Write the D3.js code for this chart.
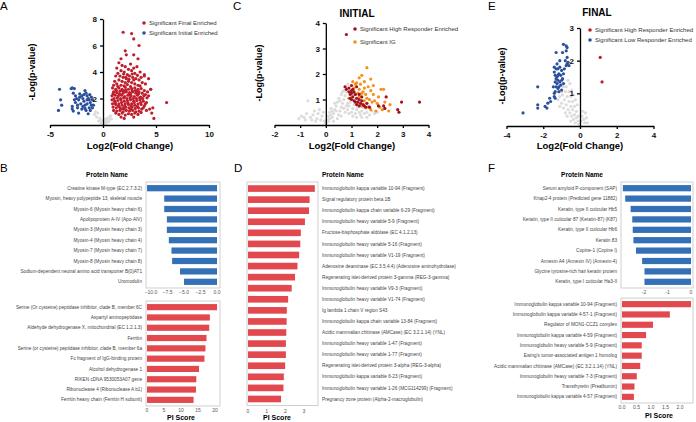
<!DOCTYPE html>
<html>
<head>
<meta charset="utf-8">
<script src="https://cdn.jsdelivr.net/npm/d3@7"></script>
<style>
  body { margin: 0; background: #fff; }
  text { font-family: "Liberation Sans", Arial, sans-serif; }
</style>
</head>
<body>
<div id="chart"></div>
<script>
// ---- panel A: final vs initial volcano ----
const aFinal = [
  [1.5,4.7],[1.8,4.5],[2.1,4.4],[2.6,4.6],[1.3,4.3],[2.9,4.3],[3.2,4.4],[2.4,4.2],[1.7,4.1],[3.5,4.0],[2.0,4.0],[2.7,4.1],[1.4,3.9],[3.0,3.9],[3.9,3.8],[2.3,3.8],[3.6,3.6],
  [1.2,3.7],[1.6,3.7],[1.9,3.6],[2.2,3.5],[2.5,3.7],[2.8,3.6],[3.1,3.5],[3.4,3.4],[1.1,3.3],[1.5,3.4],[1.8,3.3],[2.1,3.2],[2.4,3.3],[2.7,3.2],[3.0,3.1],[3.3,3.0],[3.7,3.2],
  [1.3,3.1],[1.7,3.0],[2.0,2.95],[2.3,3.05],[2.6,2.9],[2.9,3.4],[3.5,2.95],[4.0,3.1],[1.0,3.0],[1.4,2.9],[2.15,3.6],[2.45,3.45],[1.95,3.85],[2.75,3.85],[3.25,3.75],
  [0.9,2.8],[1.2,2.7],[1.5,2.8],[1.8,2.7],[2.1,2.85],[2.4,2.7],[2.7,2.75],[3.0,2.8],[3.3,2.7],[3.6,2.75],[3.9,2.6],[4.2,2.5],[4.5,2.7],[1.0,2.5],[1.3,2.45],[1.6,2.55],
  [1.9,2.4],[2.2,2.5],[2.5,2.45],[2.8,2.5],[3.1,2.4],[3.4,2.5],[3.7,2.4],[4.0,2.3],[0.85,2.2],[1.15,2.25],[1.45,2.2],[1.75,2.25],[2.05,2.15],[2.35,2.25],[2.65,2.2],
  [2.95,2.15],[3.25,2.25],[3.55,2.1],[3.85,2.2],[4.15,2.05],[1.05,2.0],[1.35,2.05],[1.65,2.0],[1.95,2.05],[2.25,2.0],[2.55,2.05],[2.85,2.0],[3.15,2.0],[3.45,2.05],
  [3.75,2.0],[4.3,2.2],[1.25,2.6],[1.55,2.35],[1.85,2.6],[2.15,2.65],[2.45,2.3],[2.75,2.6],[3.05,2.6],[3.35,2.35],[0.95,2.35],[2.0,2.55],[2.6,2.35],[3.2,2.55],
  [0.85,1.9],[1.1,1.8],[1.4,1.85],[1.7,1.9],[2.0,1.8],[2.3,1.85],[2.6,1.9],[2.9,1.8],[3.2,1.85],[3.5,1.9],[3.8,1.8],[4.1,1.7],[0.9,1.6],[1.2,1.55],[1.5,1.6],[1.8,1.5],
  [2.1,1.6],[2.4,1.55],[2.7,1.6],[3.0,1.5],[3.3,1.6],[3.6,1.55],[3.9,1.45],[0.95,1.35],[1.25,1.3],[1.55,1.35],[1.85,1.25],[2.15,1.35],[2.45,1.3],[2.75,1.35],[3.05,1.25],
  [3.35,1.3],[3.65,1.2],[1.0,1.1],[1.3,1.05],[1.6,1.1],[1.9,1.0],[2.2,1.1],[2.5,1.05],[2.8,1.1],[3.1,1.0],[3.4,1.05],[4.4,1.2],[1.15,1.7],[1.45,1.45],[1.75,1.7],
  [2.05,1.4],[2.35,1.7],[2.65,1.45],[2.95,1.7],[3.25,1.4],[3.55,1.7],[1.65,1.2],[2.0,1.2],[2.6,1.2],[3.8,1.3],[4.0,1.6],
  [1.2,0.9],[1.5,0.8],[1.8,0.9],[2.1,0.75],[2.4,0.85],[2.7,0.8],[3.0,0.9],[1.7,0.6],[2.0,0.5],[3.3,0.8],[2.9,0.6],[4.6,0.9],[4.8,0.5],[3.6,0.95],
  [1.9,7.0],[2.7,6.9],[2.9,6.5],[3.4,6.0],[2.1,5.6],[2.9,5.3],[3.3,5.0],[2.2,5.3],[1.7,5.0],[6.0,1.7],[4.3,3.5],[3.9,3.7],[4.5,2.7],[4.1,1.1],[4.7,1.3]
];
const aInitial = [
  [-4.1,2.7],[-4.0,1.9],[-4.2,1.1],[-3.9,1.5],[-3.0,2.75],[-2.9,2.8],[-2.7,2.75],[-2.8,2.4],[-2.6,2.2],[-2.5,2.0],[-2.3,1.9],[-2.2,2.1],[-2.0,2.2],[-1.9,2.0],
  [-1.8,1.8],[-1.7,2.6],[-1.6,2.4],[-1.5,2.2],[-1.4,2.0],[-1.3,1.9],[-1.2,1.7],[-1.1,1.5],[-1.0,1.3],[-1.5,1.6],[-1.7,1.5],[-1.9,1.4],[-2.1,1.6],[-2.4,1.5],
  [-2.6,1.7],[-2.9,1.4],[-2.9,1.2],[-2.8,1.05],[-2.4,1.3],[-2.0,1.2],[-1.6,1.1],[-1.3,1.3],[-1.2,1.1],[-1.4,0.85],[-2.3,0.9],[-1.0,1.9],[-0.9,1.5],[-1.1,2.1],
  [-1.8,2.3],[-2.2,2.35],[-1.5,1.9],[-1.7,1.25],[-2.7,1.9],[-1.25,2.3]
];
const aNs = [
  [0.1,0.1],[0.2,0.2],[0.3,0.3],[-0.2,0.15],[-0.4,0.3],[-0.6,0.6],[-0.8,0.8],[0.5,0.4],[0.6,0.6],[0.7,0.7],[0.4,0.5],[-0.3,0.5],[-0.5,0.9],[0.2,0.45],
  [0.05,0.3],[0.35,0.15],[0.55,0.25],[0.8,0.45],[-0.15,0.35],[-0.7,1.0]
];

// ---- panel C: initial ----
const cNs = [
  [-1.05,0.25],[-0.95,0.35],[-0.85,0.3],[-0.75,0.45],[-0.7,0.95],[-0.8,0.2],[-0.6,0.3],[-0.5,0.4],[-0.45,0.55],[-0.35,0.25],[-0.3,0.45],[-0.25,0.6],[-0.2,0.2],
  [-0.15,0.35],[-0.1,0.5],[-0.05,0.15],[0,0.05],[0.05,0.2],[0.1,0.35],[0.15,0.5],[0.2,0.65],[0.25,0.3],[0.3,0.45],[0.35,0.6],[0.4,0.75],[0.45,0.9],[0.5,0.4],
  [0.55,0.55],[0.6,0.7],[0.65,0.85],[0.7,1.0],[0.75,1.15],[0.8,1.3],[0.85,0.6],[0.9,0.75],[0.95,0.9],[1.0,0.5],[1.05,0.65],[1.1,0.8],[1.15,0.45],[1.2,0.6],
  [1.25,0.7],[1.3,0.5],[1.35,0.4],[1.4,0.55],[1.5,0.45],[1.6,0.5],[1.7,0.4],[1.8,0.55],[1.9,0.45],[2.0,0.5],[0.3,0.15],[0.45,0.25],[0.6,0.35],[0.75,0.5],
  [0.9,0.45],[0.5,1.05],[0.6,1.2],[0.7,1.35],[0.75,1.5],[0.85,1.6],[0.8,1.45],[0.65,1.3],[0.55,0.95],[0.4,0.55],[0.35,0.85],[0.25,0.55],[0.15,0.25],[0.1,0.15],
  [-0.4,0.15],[-0.55,0.2],[1.0,1.1],[1.1,1.2],[1.15,1.0],[1.25,0.95],[1.35,0.8],[1.45,0.7],[1.55,0.65],[1.65,0.75],[0.95,1.25],[0.9,1.05],[0.85,0.85],[0.7,0.65],
  [0.8,0.75],[1.05,0.35],[1.2,0.3],[1.4,0.3],[1.6,0.3],[0.2,0.4],[0.05,0.1]
];
const cHigh = [
  [0.8,3.55],[0.75,1.5],[0.8,1.4],[0.9,1.45],[0.95,1.2],[1.0,1.35],[1.05,1.4],[1.0,1.0],[1.1,1.3],[1.05,1.1],[1.1,0.95],[1.15,1.2],[1.2,1.05],[1.25,0.9],
  [1.3,1.0],[1.35,0.85],[1.4,0.95],[1.45,0.8],[1.5,0.75],[1.55,0.7],[1.6,0.85],[1.2,0.8],[1.3,0.75],[1.0,1.25],[0.95,1.05],[1.15,0.9],[0.9,1.3],[1.2,1.5],
  [1.3,1.2],[1.7,0.7],[2.05,0.75],[2.25,0.75],[2.35,1.1],[2.3,0.65],[2.8,0.6],[2.85,0.5],[2.95,0.9],[3.65,0.9],[1.4,1.1],[1.0,1.55]
];
const cIg = [
  [1.6,2.25],[1.4,1.95],[1.3,1.85],[1.05,1.7],[1.15,1.6],[1.35,1.6],[1.5,1.45],[1.65,1.5],[1.75,1.35],[1.85,1.2],[1.2,1.65],[1.55,1.2],[1.45,1.3],[1.6,1.05],
  [1.7,1.0],[1.8,0.9],[1.9,0.95],[2.0,0.85],[2.1,0.7],[2.2,0.6],[2.15,1.4],[2.25,1.4],[1.75,1.8],[1.3,1.4],[1.4,1.25],[1.25,1.25],[1.5,0.95],[1.65,0.7],
  [1.4,0.75],[1.75,0.6],[2.05,1.1],[2.5,0.8],[2.45,0.55],[1.95,0.55],[1.1,1.45],[1.3,1.1],[1.5,1.7],[1.85,1.55],[0.9,1.05],[2.3,0.9]
];

// ---- panel E: final ----
const eNs = [
  [-0.05,0.05],[-0.1,0.15],[-0.2,0.25],[-0.3,0.35],[-0.4,0.5],[-0.5,0.6],[-0.6,0.75],[-0.7,0.9],[-0.8,1.05],[-0.9,1.2],[-0.65,0.5],[-0.55,0.4],[-0.45,0.3],
  [-0.35,0.2],[-0.25,0.1],[-0.75,0.65],[-0.85,0.8],[-0.95,0.95],[-0.6,1.05],[-0.5,0.9],[-0.4,0.75],[-0.3,0.6],[-0.2,0.45],[-0.1,0.3],[0.05,0.15],[0.1,0.3],
  [0.2,0.2],[0.3,0.4],[0.15,0.45],[0.25,0.1],[-0.55,1.3],[-0.65,1.4],[-0.75,1.2],[-1.0,0.7],[-1.1,0.9],[-0.8,0.4],[-0.9,0.55],[-0.45,1.1],[-0.35,0.95],
  [-0.25,0.8],[-0.15,0.65],[0.35,0.25],[0.4,0.1],[-1.2,0.8],[-1.1,0.6],[-0.7,0.3],[-0.5,0.15],[-1.0,1.05]
];
const eLow = [
  [-3.1,0.4],[-2.3,1.2],[-2.3,0.65],[-2.3,0.55],[-1.9,0.6],[-1.8,0.55],[-1.75,0.7],[-1.65,0.85],[-1.6,0.75],[-1.4,0.9],[-1.35,1.05],[-1.3,1.2],[-1.25,1.3],
  [-1.4,1.0],[-1.35,0.85],[-1.2,1.15],[-1.15,1.05],[-1.3,1.45],[-1.25,1.5],[-1.35,1.35],[-1.2,1.4],[-1.1,1.35],[-1.05,1.25],[-1.0,1.4],[-0.95,1.45],[-1.15,1.6],
  [-1.3,1.75],[-1.4,1.8],[-1.2,1.75],[-1.1,1.8],[-1.0,1.7],[-0.9,1.6],[-0.85,1.75],[-0.75,1.85],[-0.7,1.9],[-0.65,1.95],[-0.6,1.85],[-0.8,2.0],[-0.7,2.1],
  [-1.3,2.25],[-0.95,2.25],[-0.75,2.3],[-0.7,2.4],[-0.9,2.5],[-0.75,2.45],[-1.4,1.65],[-1.2,1.55],[-1.05,1.55],[-1.25,1.9],[-1.1,2.0],[-1.15,1.2],[-1.45,1.2],
  [-1.35,1.55],[-0.9,1.3],[-1.0,1.1]
];
const eHigh = [[1.1,2.1],[1.2,1.35]];

// ---- bar panels ----
const bTopNames = [
  "Creatine kinase M-type (EC 2.7.3.2)", "Myosin, heavy polypeptide 13, skeletal muscle", "Myosin-6 (Myosin heavy chain 6)",
  "Apolipoprotein A-IV (Apo-AIV)", "Myosin-3 (Myosin heavy chain 3)", "Myosin-4 (Myosin heavy chain 4)", "Myosin-7 (Myosin heavy chain 7)",
  "Myosin-8 (Myosin heavy chain 8)", "Sodium-dependent neutral amino acid transporter B(0)AT1", "Uromodulin"
];
const bTopVals = [-10.6, -8.0, -8.0, -7.6, -7.6, -7.3, -6.9, -6.8, -5.6, -5.0];
const bTopTicks = [-10, -7.5, -5, -2.5, 0];

const bBotNames = [
  "Serine (Or cysteine) peptidase inhibitor, clade B, member 6C", "Aspartyl aminopeptidase", "Aldehyde dehydrogenase X, mitochondrial (EC 1.2.1.3)",
  "Ferritin", "Serine (or cysteine) peptidase inhibitor, clade B, member 6a", "Fc fragment of IgG-binding protein", "Alcohol dehydrogenase 1",
  "RIKEN cDNA 9530053A07 gene", "Ribonuclease 4 (Ribonuclease A b1)", "Ferritin heavy chain (Ferritin H subunit)"
];
const bBotVals = [20.6, 18.5, 18.3, 17.5, 17.2, 16.9, 15.3, 14.5, 14.4, 13.7];
const bBotTicks = [0, 5, 10, 15, 20];

const dNames = [
  "Immunoglobulin kappa variable 10-94 (Fragment)", "Signal regulatory protein beta 1B", "Immunoglobulin kappa chain variable 6-29 (Fragment)",
  "Immunoglobulin heavy variable 5-9 (Fragment)", "Fructose-bisphosphate aldolase (EC 4.1.2.13)", "Immunoglobulin heavy variable 5-16 (Fragment)",
  "Immunoglobulin heavy variable V1-19 (Fragment)", "Adenosine deaminase (EC 3.5.4.4) (Adenosine aminohydrolase)",
  "Regenerating islet-derived protein 3-gamma (REG-3-gamma)", "Immunoglobulin heavy variable V9-3 (Fragment)",
  "Immunoglobulin heavy variable V1-74 (Fragment)", "Ig lambda 1 chain V region S43", "Immunoglobulin kappa chain variable 13-84 (Fragment)",
  "Acidic mammalian chitinase (AMCase) (EC 3.2.1.14) (YNL)", "Immunoglobulin heavy variable 1-47 (Fragment)",
  "Immunoglobulin heavy variable 1-77 (Fragment)", "Regenerating islet-derived protein 3-alpha (REG-3-alpha)",
  "Immunoglobulin kappa variable 6-23 (Fragment)", "Immunoglobulin heavy variable 1-26 (MCG114299) (Fragment)",
  "Pregnancy zone protein (Alpha-2-macroglobulin)"
];
const dVals = [3.58, 3.3, 3.27, 3.05, 2.83, 2.8, 2.74, 2.65, 2.52, 2.34, 2.15, 2.08, 2.07, 2.05, 2.03, 2.03, 1.99, 1.92, 1.9, 1.77];
const dTicks = [0, 1, 2, 3];

const fTopNames = [
  "Serum amyloid P-component (SAP)", "Krtap2-4 protein (Predicted gene 11882)", "Keratin, type II cuticular Hb5",
  "Keratin, type II cuticular 87 (Keratin-87) (K87)", "Keratin, type II cuticular Hb6", "Keratin 83", "Copine-1 (Copine I)",
  "Annexin A4 (Annexin IV) (Annexin-4)", "Glycine tyrosine-rich hair keratin protein", "Keratin, type I cuticular Ha3-II"
];
const fTopVals = [-2.9, -2.8, -2.57, -2.5, -2.48, -2.45, -2.34, -2.08, -1.98, -1.98];
const fTopTicks = [-2, -1, 0];

const fBotNames = [
  "Immunoglobulin kappa variable 10-94 (Fragment)", "Immunoglobulin kappa variable 4-57-1 (Fragment)", "Regulator of MON1-CCZ1 complex",
  "Immunoglobulin kappa variable 4-59 (Fragment)", "Immunoglobulin heavy variable 5-9 (Fragment)", "Ewing's tumor-associated antigen 1 homolog",
  "Acidic mammalian chitinase (AMCase) (EC 3.2.1.14) (YNL)", "Immunoglobulin heavy variable 7-3 (Fragment)", "Transthyretin (Prealbumin)",
  "Immunoglobulin kappa variable 4-57 (Fragment)"
];
const fBotVals = [2.38, 1.65, 1.07, 0.83, 0.68, 0.68, 0.63, 0.51, 0.43, 0.41];
const fBotTicks = [0, 0.5, 1, 1.5, 2];

const RED = "#bf1e2d", DARKRED = "#a3121c", BLUE = "#2c4f9e", ORANGE = "#f4901e", GREY = "#dcdcdc";
const BARBLUE = "#3470b5", BARRED = "#e2494f";

const svg = d3.select("#chart").append("svg").attr("width", 696).attr("height", 422);

const volcano = (o) => {
  const x = d3.scaleLinear().domain(o.xd).range(o.xr);
  const y = d3.scaleLinear().domain(o.yd).range(o.yr);
  const g = svg.append("g");

  o.series.forEach((s) => {
    g.append("g").selectAll("circle").data(s.data).enter().append("circle")
      .attr("cx", (d) => x(d[0]))
      .attr("cy", (d) => y(d[1]))
      .attr("r", 1.6)
      .attr("fill", s.color);
  });

  const ax = g.append("g").attr("transform", `translate(0,${y(0)})`)
    .call(d3.axisBottom(x).tickValues(o.xt).tickSize(3).tickSizeOuter(0).tickFormat((d) => String(d)));
  const ay = g.append("g").attr("transform", `translate(${x(0)},0)`)
    .call(d3.axisLeft(y).tickValues(o.yt).tickSize(3).tickSizeOuter(0).tickFormat((d) => String(d)));
  [ax, ay].forEach((a) => {
    a.attr("font-family", null);
    a.select(".domain").attr("stroke-width", 1.3);
    a.selectAll(".tick line").attr("stroke-width", 1.3);
    a.selectAll(".tick text").attr("font-size", 8).attr("font-weight", "bold").attr("fill", "#111");
  });

  g.append("text").attr("x", o.xtitle[0]).attr("y", o.xtitle[1])
    .attr("text-anchor", "middle").attr("font-size", 9.5).attr("font-weight", "bold")
    .text("Log2(Fold Change)");
  g.append("text").attr("transform", `translate(${o.ytitle[0]},${o.ytitle[1]}) rotate(-90)`)
    .attr("text-anchor", "middle").attr("font-size", 9).attr("font-weight", "bold")
    .text("-Log(p-value)");

  if (o.title) {
    g.append("text").attr("x", o.title[1]).attr("y", o.title[2])
      .attr("text-anchor", "middle").attr("font-size", 10).attr("font-weight", "bold")
      .text(o.title[0]);
  }

  o.legend.forEach((l, i) => {
    const ly = o.leg[1] + i * o.leg[2];
    g.append("circle").attr("cx", o.leg[0]).attr("cy", ly).attr("r", 1.8).attr("fill", l[1]);
    g.append("text").attr("x", o.leg[0] + 5).attr("y", ly).attr("dy", "0.35em")
      .attr("font-size", 6).attr("fill", "#333").text(l[0]);
  });
};

const barPanel = (o) => {
  const x = d3.scaleLinear().domain(o.xd).range(o.xr);
  const y = d3.scaleBand().domain(o.names).range([o.top, o.bottom]).paddingInner(0.4).paddingOuter(0.2);
  const g = svg.append("g");

  g.append("rect").attr("x", o.frame[0]).attr("y", o.top - 1)
    .attr("width", o.frame[1] - o.frame[0]).attr("height", o.bottom - o.top + 2)
    .attr("fill", "none").attr("stroke", "#c4c4c4").attr("stroke-width", 0.8);

  g.selectAll("rect.bar").data(o.vals).enter().append("rect")
    .attr("class", "bar")
    .attr("x", (d) => Math.min(x(d), x(0)))
    .attr("y", (d, i) => y(o.names[i]))
    .attr("width", (d) => Math.abs(x(d) - x(0)))
    .attr("height", y.bandwidth())
    .attr("fill", o.color);

  g.selectAll("text.lab").data(o.names).enter().append("text")
    .attr("class", "lab")
    .attr("x", o.lx)
    .attr("y", (d) => y(d) + y.bandwidth() / 2)
    .attr("dy", "0.35em")
    .attr("text-anchor", o.anchor)
    .attr("font-size", 4.7)
    .attr("fill", "#444")
    .text((d) => d);

  g.selectAll("text.tk").data(o.ticks).enter().append("text")
    .attr("class", "tk")
    .attr("x", (d) => x(d))
    .attr("y", o.ty)
    .attr("text-anchor", "middle")
    .attr("font-size", 5)
    .attr("fill", "#555")
    .text(o.fmt);
};

const label = (t, x, y, size, weight, anchor) => {
  svg.append("text").attr("x", x).attr("y", y).attr("font-size", size)
    .attr("font-weight", weight || "normal").attr("text-anchor", anchor || "start").text(t);
};

// volcano plots
volcano({
  xd: [-5, 10], xr: [50, 209], yd: [0, 8], yr: [125, 19], xt: [-5, 0, 5, 10], yt: [2, 4, 6, 8],
  series: [{ data: aNs, color: GREY }, { data: aInitial, color: BLUE }, { data: aFinal, color: RED }],
  xtitle: [130, 149], ytitle: [35, 72],
  leg: [144, 23, 10], legend: [["Significant Final Enriched", RED], ["Significant Initial Enriched", BLUE]]
});
volcano({
  xd: [-2, 4], xr: [274.5, 428.5], yd: [0, 4], yr: [125, 23], xt: [-2, -1, 0, 1, 2, 3, 4], yt: [1, 2, 3, 4],
  series: [{ data: cNs, color: GREY }, { data: cIg, color: ORANGE }, { data: cHigh, color: DARKRED }],
  xtitle: [352, 149], ytitle: [262, 73], title: ["INITIAL", 357, 17],
  leg: [355, 29, 13], legend: [["Significant High Responder Enriched", DARKRED], ["Significant IG", ORANGE]]
});
volcano({
  xd: [-4, 4], xr: [506.5, 653.5], yd: [0, 3], yr: [126, 28], xt: [-4, -2, 0, 2, 4], yt: [1, 2, 3],
  series: [{ data: eNs, color: GREY }, { data: eLow, color: BLUE }, { data: eHigh, color: RED }],
  xtitle: [580, 149], ytitle: [505, 76], title: ["FINAL", 597, 16],
  leg: [590, 30, 10], legend: [["Significant High Responder Enriched", RED], ["Significant Low Responder Enriched", BLUE]]
});

// bar panels
const f1 = d3.format(".1f");
barPanel({ names: bTopNames, vals: bTopVals, xd: [-10, 0], xr: [151, 217], top: 183, bottom: 287, frame: [146, 220],
  color: BARBLUE, lx: 142, anchor: "end", ticks: bTopTicks, ty: 294, fmt: f1 });
barPanel({ names: bBotNames, vals: bBotVals, xd: [0, 20], xr: [147, 215], top: 302, bottom: 405, frame: [146, 220],
  color: BARRED, lx: 142, anchor: "end", ticks: bBotTicks, ty: 412, fmt: (d) => String(d) });
barPanel({ names: dNames, vals: dVals, xd: [0, 3], xr: [248, 304], top: 183, bottom: 404.5, frame: [247, 318],
  color: BARRED, lx: 322, anchor: "start", ticks: dTicks, ty: 413, fmt: (d) => String(d) });
barPanel({ names: fTopNames, vals: fTopVals, xd: [-2, 0], xr: [644, 691], top: 183, bottom: 287, frame: [621, 693],
  color: BARBLUE, lx: 617, anchor: "end", ticks: fTopTicks, ty: 294, fmt: (d) => String(d) });
barPanel({ names: fBotNames, vals: fBotVals, xd: [0, 2], xr: [622, 680], top: 299, bottom: 402, frame: [621, 693],
  color: BARRED, lx: 617, anchor: "end", ticks: fBotTicks, ty: 409, fmt: f1 });

// headers and panel letters
label("Protein Name", 107, 177, 6.5, "bold", "middle");
label("Protein Name", 322, 177, 6.5, "bold", "start");
label("Protein Name", 582, 177, 6.5, "bold", "middle");
label("PI Score", 181, 420, 7, "bold", "middle");
label("PI Score", 277, 420, 7, "bold", "middle");
label("PI Score", 659, 418, 7, "bold", "middle");

label("A", 0, 10, 11.5);
label("B", 0, 172, 11.5);
label("C", 233, 10, 11.5);
label("D", 234, 172, 11.5);
label("E", 488, 10, 11.5);
label("F", 488, 172, 11.5);
</script>
</body>
</html>
